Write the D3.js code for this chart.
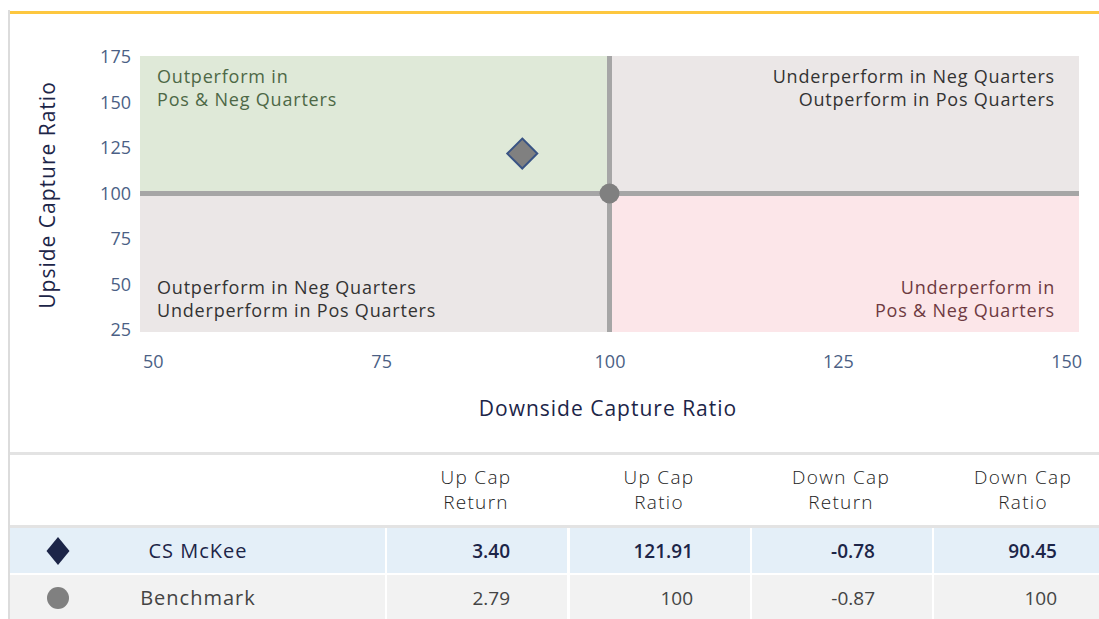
<!DOCTYPE html>
<html><head><meta charset="utf-8">
<script src="https://cdn.jsdelivr.net/npm/d3@7"></script>
<style>
html,body{margin:0;padding:0;background:#fff;overflow:hidden;}
svg{display:block;font-family:"Open Sans",sans-serif;}
</style></head>
<body>
<svg id="chart" width="1099" height="619"></svg>
<script>
// ---- data ----
const xTicks = [50, 75, 100, 125, 150];
const yTicks = [25, 50, 75, 100, 125, 150, 175];
const pointNames = ["CS McKee", "Benchmark"];
const downCapRatio = [90.45, 100];
const upCapRatio = [121.91, 100];
const upCapReturn = ["3.40", "2.79"];
const downCapReturn = ["-0.78", "-0.87"];
const upCapRatioText = ["121.91", "100"];
const downCapRatioText = ["90.45", "100"];
const headers = [["Up Cap", "Return"], ["Up Cap", "Ratio"], ["Down Cap", "Return"], ["Down Cap", "Ratio"]];
const quadrantLabels = [
  {lines: ["Outperform in", "Pos & Neg Quarters"], q: "tl"},
  {lines: ["Underperform in Neg Quarters", "Outperform in Pos Quarters"], q: "tr"},
  {lines: ["Outperform in Neg Quarters", "Underperform in Pos Quarters"], q: "bl"},
  {lines: ["Underperform in", "Pos & Neg Quarters"], q: "br"}
];

const svg = d3.select("#chart");
const x = d3.scaleLinear().domain([48.6, 151.4]).range([140, 1079]);
const y = d3.scaleLinear().domain([23.9, 175.5]).range([332, 56]);
const [x0, x1] = x.domain(), [y0, y1] = y.domain();

// frame decorations
svg.append("rect").attr("x", 8).attr("y", 10).attr("width", 2).attr("height", 609).attr("fill", "#dcdcdc");
svg.append("rect").attr("x", 10).attr("y", 11).attr("width", 1089).attr("height", 3).attr("fill", "#fdc73f");

// quadrants
const quads = [
  {xa: x0, xb: 100, ya: 100, yb: y1, fill: "#dfe9d8"},
  {xa: 100, xb: x1, ya: 100, yb: y1, fill: "#ebe7e7"},
  {xa: x0, xb: 100, ya: y0, yb: 100, fill: "#ebe7e7"},
  {xa: 100, xb: x1, ya: y0, yb: 100, fill: "#fce6e9"}
];
svg.selectAll("rect.q").data(quads).join("rect").attr("class", "q")
  .attr("x", d => x(d.xa)).attr("y", d => y(d.yb))
  .attr("width", d => x(d.xb) - x(d.xa)).attr("height", d => y(d.ya) - y(d.yb))
  .attr("fill", d => d.fill);

// quadrant labels
const qColor = {tl: "#4d6846", tr: "#333333", bl: "#333333", br: "#6e3a41"};
quadrantLabels.forEach(q => {
  const right = q.q === "tr" || q.q === "br";
  const top = q.q === "tl" || q.q === "tr";
  const tx = right ? x(x1) - 24 : x(x0) + 17;
  const ty = top ? 77 : 288;
  q.lines.forEach((l, i) => svg.append("text").attr("fill", qColor[q.q]).attr("font-size", 18)
    .attr("letter-spacing", "0.8px").attr("text-anchor", right ? "end" : "start")
    .attr("x", tx).attr("y", ty + i * 23).attr("dy", "0.35em").text(l));
});

// reference lines
svg.append("line").attr("x1", x(x0)).attr("x2", x(x1)).attr("y1", y(100)).attr("y2", y(100))
  .attr("stroke", "#a6a6a6").attr("stroke-width", 5);
svg.append("line").attr("x1", x(100)).attr("x2", x(100)).attr("y1", y(y0)).attr("y2", y(y1))
  .attr("stroke", "#a6a6a6").attr("stroke-width", 5);

// axes
const xAxis = svg.append("g").attr("transform", "translate(0,362)")
  .call(d3.axisBottom(x).tickValues(xTicks).tickSize(0).tickPadding(0));
xAxis.select(".domain").remove();
xAxis.selectAll("text").attr("font-size", 18).attr("fill", "#4b5f85").attr("dy", "0.35em")
  .attr("font-family", "Open Sans").attr("y", 0);
const yAxis = svg.append("g").attr("transform", "translate(131,0)")
  .call(d3.axisLeft(y).tickValues(yTicks).tickSize(0).tickPadding(0));
yAxis.select(".domain").remove();
yAxis.selectAll("text").attr("font-size", 18).attr("fill", "#4b5f85").attr("font-family", "Open Sans");

svg.append("text").attr("x", 608).attr("y", 409).attr("dy", "0.35em").attr("text-anchor", "middle")
  .attr("font-size", 21).attr("font-weight", 500).attr("letter-spacing", "1px").attr("fill", "#1c2548")
  .text("Downside Capture Ratio");
svg.append("text").attr("transform", "translate(48,195) rotate(-90)").attr("dy", "0.35em")
  .attr("text-anchor", "middle").attr("font-size", 21).attr("font-weight", 500).attr("letter-spacing", "1px")
  .attr("fill", "#1c2548").text("Upside Capture Ratio");

// points
svg.append("circle").attr("cx", x(downCapRatio[1])).attr("cy", y(upCapRatio[1])).attr("r", 10).attr("fill", "#808080");
svg.append("path").attr("d", "M0,-15L15,0L0,15L-15,0Z")
  .attr("transform", `translate(${x(downCapRatio[0])},${y(upCapRatio[0])})`)
  .attr("fill", "#808080").attr("stroke", "#3a5484").attr("stroke-width", 2);

// table
svg.append("rect").attr("x", 10).attr("y", 452).attr("width", 1089).attr("height", 3).attr("fill", "#e3e3e3");
svg.append("rect").attr("x", 10).attr("y", 525).attr("width", 1089).attr("height", 3).attr("fill", "#e3e3e3");
const colX = [385, 568, 750, 932];
const colW = 182;
headers.forEach((h, i) => {
  h.forEach((l, j) => svg.append("text").attr("text-anchor", "middle").attr("font-size", 19)
    .attr("font-weight", 300).attr("letter-spacing", "1.3px").attr("fill", "#222")
    .attr("x", colX[i] + colW / 2).attr("y", 477 + j * 25).attr("dy", "0.35em").text(l));
});
const rows = [
  {bg: "#e4eff8", y: 528, color: "#1c2548", weight: 600},
  {bg: "#f2f2f2", y: 575, color: "#444", weight: 400}
];
rows.forEach((r, ri) => {
  const cells = [[10, 375]].concat(colX.map(c => [c + 2, colW - 2]));
  cells.forEach(c => svg.append("rect").attr("x", c[0]).attr("y", r.y).attr("width", c[1]).attr("height", 45).attr("fill", r.bg));
  const cy = r.y + 23;
  if (ri === 0) {
    svg.append("path").attr("d", "M0,-14L11.5,0L0,14L-11.5,0Z").attr("transform", `translate(58,${cy})`).attr("fill", "#1c2548");
  } else {
    svg.append("circle").attr("cx", 58).attr("cy", cy).attr("r", 11).attr("fill", "#808080");
  }
  svg.append("text").attr("x", 198).attr("y", cy).attr("dy", "0.35em").attr("text-anchor", "middle")
    .attr("font-size", 20).attr("letter-spacing", "1px").attr("font-weight", ri === 0 ? 500 : 400)
    .attr("fill", r.color).text(pointNames[ri]);
  const vals = [upCapReturn[ri], upCapRatioText[ri], downCapReturn[ri], downCapRatioText[ri]];
  vals.forEach((v, i) => svg.append("text").attr("x", colX[i] + colW - 57).attr("y", cy).attr("dy", "0.35em")
    .attr("text-anchor", "end").attr("font-size", 19).attr("font-weight", r.weight === 600 ? 600 : 400)
    .attr("fill", r.color).text(v));
});
</script>
</body></html>
